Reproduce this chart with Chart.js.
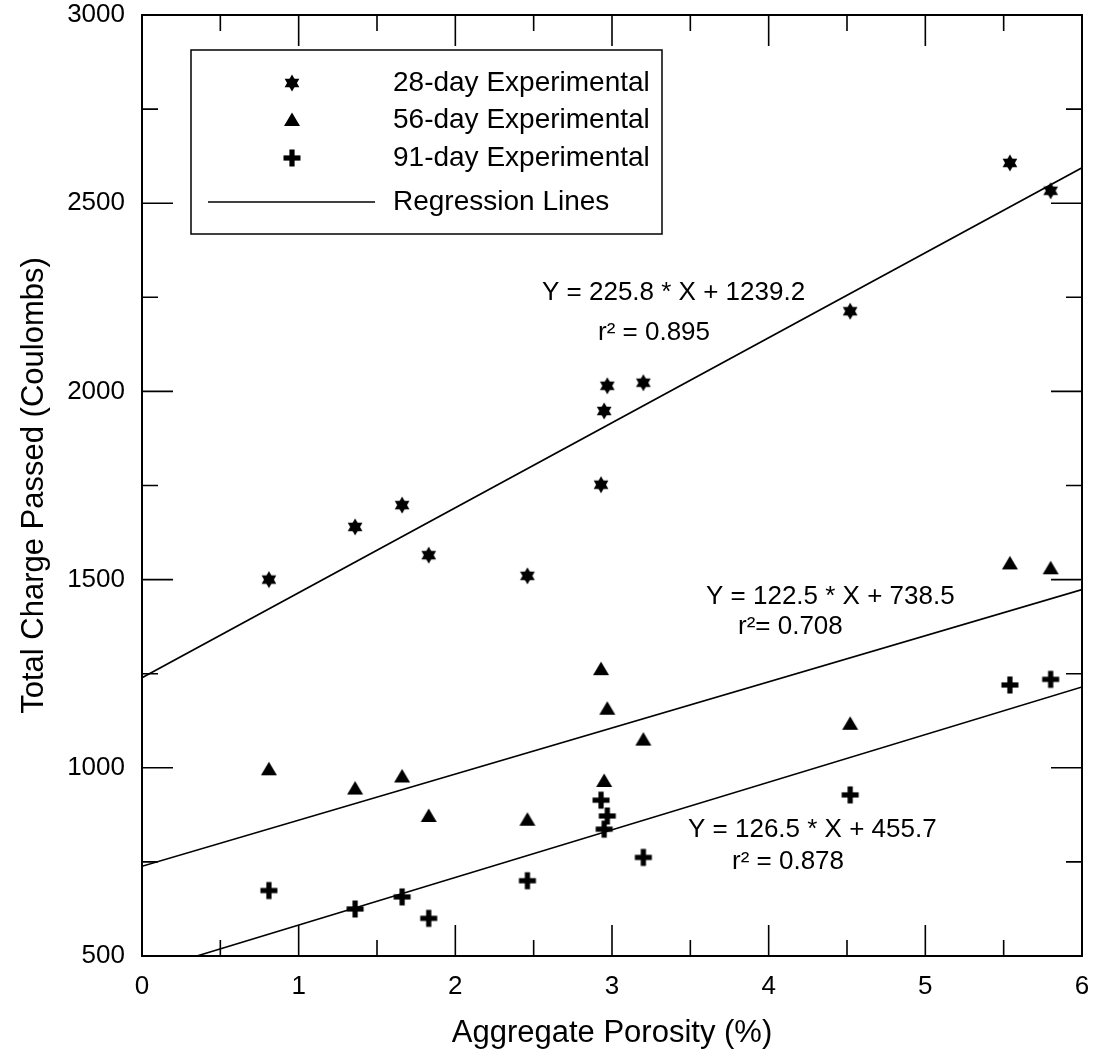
<!DOCTYPE html>
<html>
<head>
<meta charset="utf-8">
<script src="https://cdn.jsdelivr.net/npm/chart.js@4.4.1/dist/chart.umd.min.js"></script>
<style>
  html, body { margin: 0; padding: 0; background: #fff; }
</style>
</head>
<body>
<canvas id="chart" width="1096" height="1057"></canvas>
<script>
// porosity (%) shared by the three test ages
const porosity = [0.81, 1.36, 1.66, 1.83, 2.46, 2.93, 2.95, 2.97, 3.20, 4.52, 5.54, 5.80];
const charge28 = [1500, 1640, 1698, 1565, 1510, 1752, 1948, 2015, 2023, 2213, 2607, 2533];
const charge56 = [996, 945, 977, 872, 862, 1262, 965, 1157, 1075, 1117, 1543, 1530];
const charge91 = [674, 625, 657, 600, 700, 914, 837, 872, 762, 928, 1220, 1235];

// regression line end points
const fit28X = [0, 6];
const fit28Y = [1239.2, 2594.0];
const fit56X = [0, 6];
const fit56Y = [738.5, 1473.5];
const fit91X = [0.35, 6];
const fit91Y = [500, 1214.7];

const xTicks = [0, 1, 2, 3, 4, 5, 6];
const yTicks = [500, 1000, 1500, 2000, 2500, 3000];

const legendLabels = ['28-day Experimental', '56-day Experimental', '91-day Experimental', 'Regression Lines'];
const equations = [
  ['Y = 225.8 * X + 1239.2', 'r\u00B2 = 0.895'],
  ['Y = 122.5 * X + 738.5', 'r\u00B2= 0.708'],
  ['Y = 126.5 * X + 455.7', 'r\u00B2 = 0.878']
];

const FONT = '"Liberation Sans", Arial, Helvetica, sans-serif';

function makeMarker(kind) {
  const c = document.createElement('canvas');
  c.width = 20; c.height = 20;
  const g = c.getContext('2d');
  g.fillStyle = '#000';
  const cx = 10, cy = 10;
  if (kind === 'star') {
    const r = 8.5;
    [-90, 90].forEach(start => {
      g.beginPath();
      for (let i = 0; i < 3; i++) {
        const a = (start + i * 120) * Math.PI / 180;
        const px = cx + r * Math.cos(a), py = cy + r * Math.sin(a);
        i ? g.lineTo(px, py) : g.moveTo(px, py);
      }
      g.closePath();
      g.fill();
    });
  } else if (kind === 'tri') {
    g.beginPath();
    g.moveTo(cx, cy - 7.5);
    g.lineTo(cx + 8, cy + 6);
    g.lineTo(cx - 8, cy + 6);
    g.closePath();
    g.fill();
  } else {
    g.fillRect(cx - 8.5, cy - 2.6, 17, 5.2);
    g.fillRect(cx - 2.6, cy - 8.5, 5.2, 17);
  }
  return c;
}

const starImg = makeMarker('star');
const triImg = makeMarker('tri');
const plusImg = makeMarker('plus');

const pts = (xs, ys) => xs.map((x, i) => ({ x: x, y: ys[i] }));

const lineSet = (xs, ys) => ({
  type: 'line',
  data: pts(xs, ys),
  borderColor: '#000',
  borderWidth: 1.6,
  pointRadius: 0,
  showLine: true,
  fill: false
});

const decorations = {
  id: 'decorations',
  afterDraw(chart) {
    const ctx = chart.ctx;
    const { left, right, top, bottom } = chart.chartArea;
    const xs = chart.scales.x, ys = chart.scales.y;
    ctx.save();
    ctx.strokeStyle = '#000';
    ctx.lineWidth = 2;
    ctx.strokeRect(left, top, right - left, bottom - top);

    // inward ticks on all four sides
    ctx.lineWidth = 1.6;
    ctx.beginPath();
    for (let v = 0; v <= 6; v += 0.5) {
      const px = xs.getPixelForValue(v);
      const len = Number.isInteger(v) ? 31 : 16;
      ctx.moveTo(px, bottom); ctx.lineTo(px, bottom - len);
      ctx.moveTo(px, top); ctx.lineTo(px, top + len);
    }
    for (let v = 500; v <= 3000; v += 250) {
      const py = ys.getPixelForValue(v);
      const len = v % 500 === 0 ? 31 : 16;
      ctx.moveTo(left, py); ctx.lineTo(left + len, py);
      ctx.moveTo(right, py); ctx.lineTo(right - len, py);
    }
    ctx.stroke();

    // legend box
    ctx.fillStyle = '#fff';
    ctx.fillRect(191, 50, 471, 184);
    ctx.lineWidth = 1.5;
    ctx.strokeRect(191, 50, 471, 184);
    const rows = [83, 120, 158, 202];
    [starImg, triImg, plusImg].forEach((img, i) => {
      ctx.drawImage(img, 292 - 10, rows[i] - 10);
    });
    ctx.beginPath();
    ctx.moveTo(208, rows[3]); ctx.lineTo(375, rows[3]);
    ctx.lineWidth = 1.6;
    ctx.stroke();
    ctx.fillStyle = '#000';
    ctx.font = '28px ' + FONT;
    ctx.textAlign = 'left';
    ctx.textBaseline = 'middle';
    legendLabels.forEach((t, i) => ctx.fillText(t, 393, rows[i]));

    // regression equations
    ctx.font = '26px ' + FONT;
    const eqPos = [[542, 293, 598, 333], [706, 597, 738, 627], [688, 830, 732, 862]];
    equations.forEach((eq, i) => {
      const p = eqPos[i];
      ctx.fillText(eq[0], p[0], p[1]);
      ctx.fillText(eq[1], p[2], p[3]);
    });
    ctx.restore();
  }
};

new Chart(document.getElementById('chart'), {
  type: 'scatter',
  data: {
    datasets: [
      lineSet(fit28X, fit28Y),
      lineSet(fit56X, fit56Y),
      lineSet(fit91X, fit91Y),
      { data: pts(porosity, charge28), pointStyle: starImg, pointRadius: 8 },
      { data: pts(porosity, charge56), pointStyle: triImg, pointRadius: 8 },
      { data: pts(porosity, charge91), pointStyle: plusImg, pointRadius: 8 }
    ]
  },
  options: {
    responsive: false,
    animation: false,
    layout: { padding: { top: 15, right: 14, left: 0, bottom: 0 } },
    plugins: { legend: { display: false }, tooltip: { enabled: false } },
    scales: {
      x: {
        type: 'linear', min: 0, max: 6,
        afterBuildTicks: s => { s.ticks = xTicks.map(v => ({ value: v })); },
        afterFit: s => { s.height = 101; s.paddingLeft = 0; s.paddingRight = 0; },
        grid: { display: false, drawTicks: false },
        border: { display: false },
        ticks: { color: '#000', font: { family: FONT, size: 26 }, padding: 15, maxRotation: 0,
                 callback: v => String(v) },
        title: { display: true, text: 'Aggregate Porosity (%)', color: '#000',
                 font: { family: FONT, size: 31 }, padding: { top: 0, bottom: 5 } }
      },
      y: {
        type: 'linear', min: 500, max: 3000,
        afterBuildTicks: s => { s.ticks = yTicks.map(v => ({ value: v })); },
        afterFit: s => { s.width = 142; s.paddingTop = 0; s.paddingBottom = 0; },
        grid: { display: false, drawTicks: false },
        border: { display: false },
        ticks: { color: '#000', font: { family: FONT, size: 26 }, padding: 17,
                 callback: v => String(v) },
        title: { display: true, text: 'Total Charge Passed (Coulombs)', color: '#000',
                 font: { family: FONT, size: 31 }, padding: { top: 16, bottom: 0 } }
      }
    }
  },
  plugins: [decorations]
});
</script>
</body>
</html>
